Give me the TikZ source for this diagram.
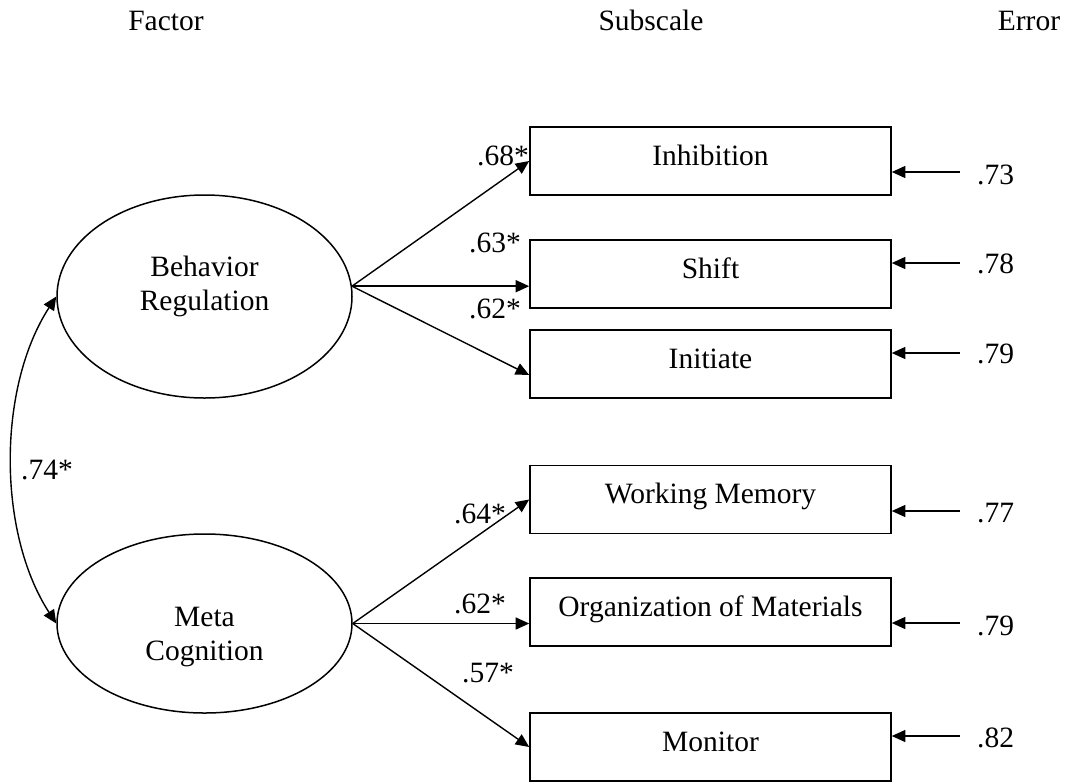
\documentclass[tikz,border=0pt]{standalone}
\usepackage{fontspec}
\setmainfont{Liberation Serif}
\usetikzlibrary{shapes.geometric,arrows.meta}
\begin{document}
\begin{tikzpicture}[x=1pt,y=-1pt,
  every node/.style={font=\fontsize{29.5pt}{34pt}\selectfont, inner sep=0pt},
  latent/.style={ellipse, draw, line width=1.5pt, minimum width=295pt, minimum height=203pt},
  obs/.style={rectangle, draw, line width=1.6pt, minimum width=361pt, minimum height=68pt, text height=16pt, text depth=8pt},
  lab/.style={anchor=base},
  elab/.style={anchor=base west},
  arr/.style={line width=1.4pt, -{Triangle[length=13.5pt,width=12pt]}},
  dbl/.style={line width=1.4pt, {Triangle[length=13.5pt,width=12pt]}-{Triangle[length=13.5pt,width=12pt]}}
]
\useasboundingbox (0,0) rectangle (1067,782);

% headers
\node[lab] (hf) at (166,30) {Factor};
\node[lab] (hs) at (651,30) {Subscale};
\node[lab] (he) at (1029,30) {Error};

% latent factors
\node[latent, label={[name=BRt, align=center, yshift=10pt]center:Behavior\\Regulation}] (BR) at (204.5,296.5) {};
\node[latent, minimum height=179pt, label={[name=MCt, align=center, yshift=-14pt]center:Meta\\Cognition}] (MC) at (204.5,623.5) {};

% subscales
\node[obs] (inh) at (710.5,161) {Inhibition};
\node[obs] (shf) at (710.5,274) {Shift};
\node[obs] (ini) at (710.5,364) {Initiate};
\node[obs] (wm)  at (710.5,499.5) {Working Memory};
\node[obs] (oom) at (710.5,612) {Organization of Materials};
\node[obs] (mon) at (710.5,747) {Monitor};

% loadings
\draw[arr] (BR.4) -- (inh.west);
\draw[arr] (BR.4) -- (BR.4 -| shf.west);
\draw[arr] (BR.4) -- ([yshift=-11pt]ini.west);
\draw[arr] (MC.east) -- (wm.west);
\draw[arr] (MC.east) -- (MC.east -| oom.west);
\draw[arr] (MC.east) -- (mon.west);

\node[lab] (l1) at (503,165) {.68*};
\node[lab] (l2) at (495,252) {.63*};
\node[lab] (l3) at (495,318) {.62*};
\node[lab] (l4) at (480,523) {.64*};
\node[lab] (l5) at (480,613) {.62*};
\node[lab] (l6) at (488,682) {.57*};

% correlation
\draw[dbl] (BR.west) .. controls +(-59,91) and +(-59,-91) .. (MC.west);
\node[lab] (l7) at (47,479) {.74*};

% errors
\node[elab] (e1) at (977,184) {.73};
\node[elab] (e2) at (977,273) {.78};
\node[elab] (e3) at (977,363) {.79};
\node[elab] (e4) at (977,522) {.77};
\node[elab] (e5) at (977,635) {.79};
\node[elab] (e6) at (977,747) {.82};

\coordinate (t1) at (960,172);
\coordinate (t2) at (960,263);
\coordinate (t3) at (960,353);
\coordinate (t4) at (960,511);
\coordinate (t5) at (960,623);
\coordinate (t6) at (960,736);
\draw[arr] (t1) -- (t1 -| inh.east);
\draw[arr] (t2) -- (t2 -| shf.east);
\draw[arr] (t3) -- (t3 -| ini.east);
\draw[arr] (t4) -- (t4 -| wm.east);
\draw[arr] (t5) -- (t5 -| oom.east);
\draw[arr] (t6) -- (t6 -| mon.east);
\end{tikzpicture}
\end{document}
